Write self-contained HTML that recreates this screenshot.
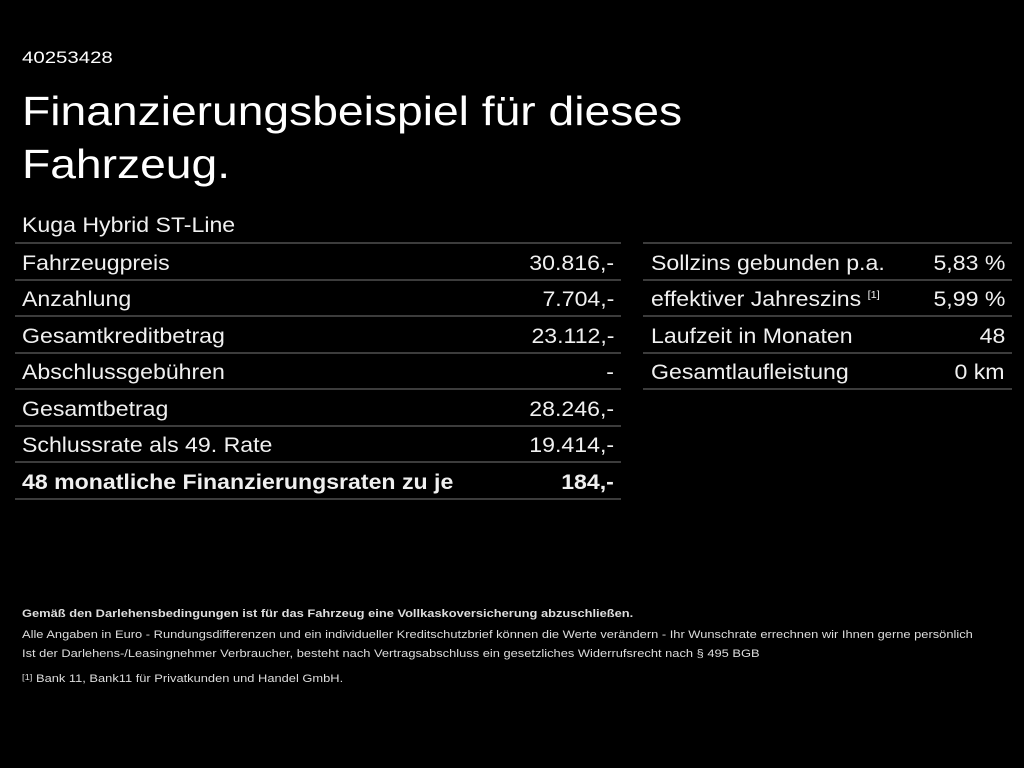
<!DOCTYPE html>
<html><head><meta charset="utf-8"><style>
html,body{margin:0;padding:0;background:#000;width:1024px;height:768px;overflow:hidden}
body{font-family:"Liberation Sans",sans-serif;color:#fff;position:relative}
.a{position:absolute;white-space:nowrap;transform-origin:left top}
.l{position:absolute;height:2px;background:#3c3c3c}
.t{font-size:21px;color:#f0f0f0;transform:scaleX(1.1);margin-top:2px}
.r{text-align:right;transform-origin:right top}
.f{font-size:11px;color:#ddd;transform:scaleX(1.17);margin-top:1px}
</style></head><body>
<div class="a" style="left:22px;top:48px;font-size:17px;transform:scaleX(1.2)">40253428</div>
<div class="a" style="left:22px;top:85px;font-size:41px;line-height:53px;transform:scaleX(1.127)">Finanzierungsbeispiel für dieses<br>Fahrzeug.</div>
<div class="a t" style="left:22px;top:212px">Kuga Hybrid ST-Line</div>

<div class="l" style="left:15px;width:606px;top:242px"></div>
<div class="l" style="left:15px;width:606px;top:279px"></div>
<div class="l" style="left:15px;width:606px;top:315px"></div>
<div class="l" style="left:15px;width:606px;top:352px"></div>
<div class="l" style="left:15px;width:606px;top:388px"></div>
<div class="l" style="left:15px;width:606px;top:425px"></div>
<div class="l" style="left:15px;width:606px;top:461px"></div>
<div class="l" style="left:15px;width:606px;top:498px"></div>

<div class="l" style="left:643px;width:369px;top:242px"></div>
<div class="l" style="left:643px;width:369px;top:279px"></div>
<div class="l" style="left:643px;width:369px;top:315px"></div>
<div class="l" style="left:643px;width:369px;top:352px"></div>
<div class="l" style="left:643px;width:369px;top:388px"></div>

<div class="a t" style="left:22px;top:250px">Fahrzeugpreis</div><div class="a t r" style="right:410px;top:250px">30.816,-</div>
<div class="a t" style="left:22px;top:286px">Anzahlung</div><div class="a t r" style="right:410px;top:286px">7.704,-</div>
<div class="a t" style="left:22px;top:323px">Gesamtkreditbetrag</div><div class="a t r" style="right:410px;top:323px">23.112,-</div>
<div class="a t" style="left:22px;top:359px">Abschlussgebühren</div><div class="a t r" style="right:410px;top:359px">-</div>
<div class="a t" style="left:22px;top:396px">Gesamtbetrag</div><div class="a t r" style="right:410px;top:396px">28.246,-</div>
<div class="a t" style="left:22px;top:432px">Schlussrate als 49. Rate</div><div class="a t r" style="right:410px;top:432px">19.414,-</div>
<div class="a t" style="left:22px;top:469px;font-weight:bold">48 monatliche Finanzierungsraten zu je</div><div class="a t r" style="right:410px;top:469px;font-weight:bold">184,-</div>

<div class="a t" style="left:651px;top:250px">Sollzins gebunden p.a.</div><div class="a t r" style="right:19px;top:250px">5,83 %</div>
<div class="a t" style="left:651px;top:286px">effektiver Jahreszins <sup style="font-size:10px">[1]</sup></div><div class="a t r" style="right:19px;top:286px">5,99 %</div>
<div class="a t" style="left:651px;top:323px">Laufzeit in Monaten</div><div class="a t r" style="right:19px;top:323px">48</div>
<div class="a t" style="left:651px;top:359px">Gesamtlaufleistung</div><div class="a t r" style="right:19px;top:359px">0 km</div>

<div class="a f" style="left:22px;top:607px;font-weight:bold">Gemäß den Darlehensbedingungen ist für das Fahrzeug eine Vollkaskoversicherung abzuschließen.</div>
<div class="a f" style="left:22px;top:628px">Alle Angaben in Euro - Rundungsdifferenzen und ein individueller Kreditschutzbrief können die Werte verändern - Ihr Wunschrate errechnen wir Ihnen gerne persönlich</div>
<div class="a f" style="left:22px;top:647px">Ist der Darlehens-/Leasingnehmer Verbraucher, besteht nach Vertragsabschluss ein gesetzliches Widerrufsrecht nach § 495 BGB</div>
<div class="a f" style="left:22px;top:672px"><span style="font-size:8px;vertical-align:top">[1]</span> Bank 11, Bank11 für Privatkunden und Handel GmbH.</div>
</body></html>
